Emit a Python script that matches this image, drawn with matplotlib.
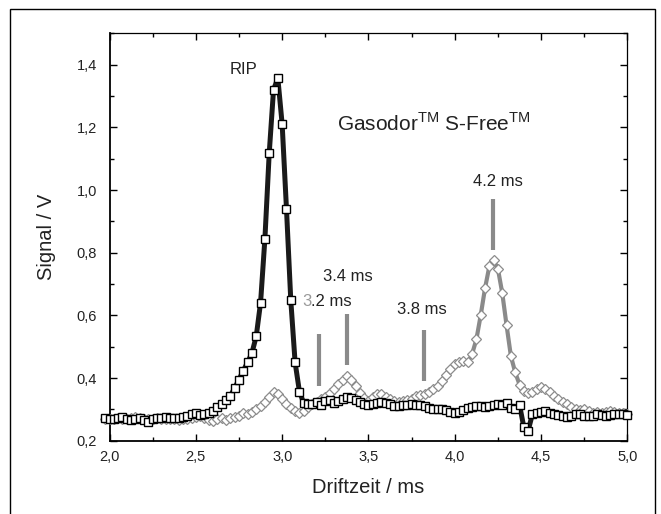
import numpy as np
import matplotlib
matplotlib.use('Agg')
import matplotlib.pyplot as plt
from matplotlib.ticker import MultipleLocator, FuncFormatter
from matplotlib.patches import Rectangle

plt.rcParams['font.family'] = ['Liberation Sans', 'DejaVu Sans']
plt.rcParams['mathtext.fontset'] = 'custom'
plt.rcParams['mathtext.rm'] = 'Liberation Sans'

# Driftzeit-Raster (ms), 0.025 ms Schrittweite
drift_time = np.linspace(1.975, 5.0, 122)

# Reaktant-Ionen-Peak (Quadrate)
rip_signal = [
    0.272, 0.270, 0.268, 0.272, 0.275, 0.268, 0.265, 0.270, 0.272, 0.266,
    0.260, 0.268, 0.274, 0.273, 0.275, 0.274, 0.274, 0.272, 0.275, 0.279,
    0.285, 0.288, 0.283, 0.284, 0.288, 0.296, 0.306, 0.316, 0.330, 0.343,
    0.368, 0.395, 0.424, 0.450, 0.480, 0.534, 0.641, 0.844, 1.117, 1.320,
    1.357, 1.210, 0.940, 0.648, 0.450, 0.357, 0.320, 0.316, 0.318, 0.322,
    0.315, 0.326, 0.330, 0.320, 0.326, 0.334, 0.338, 0.335, 0.330, 0.324,
    0.318, 0.314, 0.318, 0.320, 0.322, 0.320, 0.316, 0.310, 0.312, 0.315,
    0.315, 0.316, 0.314, 0.315, 0.312, 0.305, 0.300, 0.300, 0.302, 0.298,
    0.293, 0.290, 0.292, 0.298, 0.304, 0.306, 0.312, 0.310, 0.306, 0.312,
    0.314, 0.316, 0.313, 0.320, 0.304, 0.300, 0.314, 0.243, 0.232, 0.286,
    0.288, 0.292, 0.296, 0.290, 0.286, 0.283, 0.280, 0.276, 0.279, 0.286,
    0.284, 0.280, 0.280, 0.278, 0.285, 0.283, 0.280, 0.282, 0.285, 0.285,
    0.284, 0.282,
]

# Gasodor S-Free (Rauten)
sample_signal = [
    0.270, 0.268, 0.270, 0.272, 0.270, 0.268, 0.272, 0.275, 0.272, 0.270,
    0.268, 0.270, 0.272, 0.270, 0.268, 0.270, 0.268, 0.266, 0.268, 0.270,
    0.272, 0.275, 0.278, 0.272, 0.266, 0.262, 0.270, 0.274, 0.266, 0.272,
    0.276, 0.280, 0.287, 0.284, 0.292, 0.300, 0.310, 0.324, 0.340, 0.355,
    0.350, 0.334, 0.318, 0.304, 0.294, 0.288, 0.296, 0.306, 0.316, 0.325,
    0.332, 0.340, 0.352, 0.366, 0.382, 0.394, 0.406, 0.394, 0.374, 0.352,
    0.336, 0.328, 0.338, 0.350, 0.348, 0.340, 0.334, 0.328, 0.325, 0.326,
    0.330, 0.334, 0.342, 0.346, 0.350, 0.356, 0.364, 0.376, 0.390, 0.410,
    0.430, 0.444, 0.452, 0.455, 0.450, 0.476, 0.523, 0.600, 0.686, 0.756,
    0.777, 0.748, 0.671, 0.568, 0.470, 0.418, 0.379, 0.360, 0.352, 0.354,
    0.365, 0.371, 0.366, 0.354, 0.344, 0.334, 0.324, 0.316, 0.308, 0.302,
    0.298, 0.300, 0.294, 0.290, 0.293, 0.288, 0.292, 0.294, 0.291, 0.290,
    0.288, 0.286,
]

# Peak-Markierungen: Position, untere/obere Kante des Balkens
peak_pos = [3.212, 3.376, 3.824, 4.222]
peak_low = [0.373, 0.441, 0.389, 0.810]
peak_high = [0.539, 0.603, 0.553, 0.972]
peak_labels = ['3.2 ms', '3.4 ms', '3.8 ms', '4.2 ms']
label_x = [3.405, 3.378, 3.812, 4.249]
label_y = [0.643, 0.724, 0.619, 1.026]

fig = plt.figure(figsize=(6.61, 5.14), dpi=100)
ax = fig.add_axes([0.1657, 0.1426, 0.7835, 0.7925])

ax.plot(drift_time, sample_signal, color='#8a8a8a', lw=3.0, marker='D', ms=4.6,
        mfc='white', mec='#8c8c8c', mew=0.9, clip_on=False, zorder=3)
ax.plot(drift_time, rip_signal, color='#1a1a1a', lw=3.6, marker='s', ms=5.6,
        mfc='white', mec='black', mew=1.0, clip_on=False, zorder=4)

for xp, lo, hi in zip(peak_pos, peak_low, peak_high):
    ax.plot([xp, xp], [lo, hi], color='#8a8a8a', lw=3.0, solid_capstyle='butt', zorder=5)

txt_color = '#222222'
for lab, lx, ly in zip(peak_labels, label_x, label_y):
    if lab == '3.2 ms':
        # die "3" erscheint im Original grau
        rest = ax.text(lx, ly, lab[1:], ha='right', va='center', fontsize=12,
                       color=txt_color, zorder=7)
        ax.annotate(lab[0], xy=(0, 0.5), xycoords=rest, ha='right', va='center',
                    fontsize=12, color='#999999', zorder=6)
    else:
        ax.text(lx, ly, lab, ha='center', va='center', fontsize=12, color=txt_color, zorder=6)

ax.text(2.776, 1.384, 'RIP', ha='center', va='center', fontsize=12, color=txt_color)
ax.text(3.317, 1.212, r'Gasodor$^{\mathrm{TM}}$ S-Free$^{\mathrm{TM}}$', ha='left',
        va='center', fontsize=15, color=txt_color)

ax.set_xlim(2.0, 5.0)
ax.set_ylim(0.2, 1.5)
ax.xaxis.set_major_locator(MultipleLocator(0.5))
ax.xaxis.set_minor_locator(MultipleLocator(0.25))
ax.yaxis.set_major_locator(MultipleLocator(0.2))
ax.yaxis.set_minor_locator(MultipleLocator(0.1))
comma = FuncFormatter(lambda v, p: f'{v:.1f}'.replace('.', ','))
ax.xaxis.set_major_formatter(comma)
ax.yaxis.set_major_formatter(comma)
ax.set_yticks([0.2, 0.4, 0.6, 0.8, 1.0, 1.2, 1.4])

ax.tick_params(which='both', direction='in', top=True, right=True, width=1.0,
               colors='black', labelcolor=txt_color, labelsize=10.5)
ax.tick_params(axis='x', which='major', length=5, pad=7)
ax.tick_params(axis='y', which='major', length=5, pad=9)
ax.tick_params(which='minor', length=3)
ax.spines['left'].set_linewidth(1.3)
ax.spines['bottom'].set_linewidth(1.3)
ax.spines['top'].set_linewidth(0.9)
ax.spines['right'].set_linewidth(0.9)

ax.set_xlabel('Driftzeit / ms', fontsize=14.5, color=txt_color, labelpad=10)
ax.set_ylabel('Signal / V', fontsize=14.5, color=txt_color, labelpad=15)

# Rahmen um die Abbildung
fig.add_artist(Rectangle((10 / 661, -0.1), 645 / 661, 505 / 514 + 0.1,
                         transform=fig.transFigure, fill=False, lw=1.0, ec='black'))

fig.savefig('out.png', dpi=100)
plt.close(fig)
